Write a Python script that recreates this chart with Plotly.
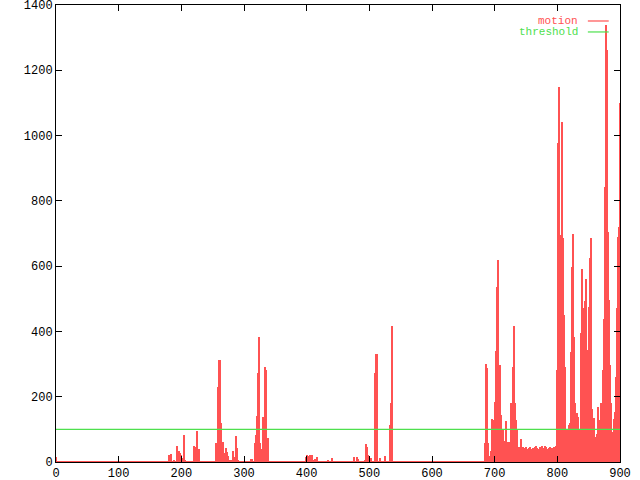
import plotly.graph_objects as go

# frames with motion above zero (everything else is 0)
frames = [
    0, 89, 91, 123, 138, 156, 169, 171, 181, 183, 189, 193, 196, 198, 200, 203, 204, 206,
    221, 223, 225, 226, 228,
    256, 258, 259, 261, 262, 264, 266, 267,
    270, 271, 273, 275, 277, 279, 282, 283, 285, 287, 288, 289, 291,
    311, 313, 318, 319, 321, 322, 324, 325, 327, 328, 330, 331, 333, 335, 336, 338,
    365, 399, 400, 402, 404, 406, 408, 411, 413, 416, 435, 440,
    475, 480, 482, 494, 495, 496, 498, 502, 503, 510, 511, 513, 518, 525, 533, 534, 536,
    684, 686, 688, 689, 691, 694, 696, 697, 699, 700, 702, 704, 705, 707, 708, 710, 711,
    713, 715, 716, 718, 719, 721, 723, 724, 726, 727, 729, 731, 732, 734, 736, 737, 739,
    740, 742, 743, 745, 747, 748, 750, 751, 753, 755, 756, 758, 759, 761, 763, 764, 766,
    767, 769, 771, 772, 774, 775, 777, 779, 780, 782, 783, 785, 787, 788, 790, 791, 793,
    795, 796, 798, 799, 801, 803, 804, 806, 808, 809, 811, 812, 814, 815, 817, 819, 820,
    822, 823, 825, 827, 828, 830, 831, 833, 835, 836, 838, 839, 841, 843, 844, 846, 847,
    849, 851, 852, 854, 855, 857, 859, 860, 862, 863, 865, 867, 868, 870, 871, 873, 875,
    876, 878, 879, 881, 883, 884, 886, 887, 889, 891, 892, 894, 895, 897, 898, 900,
]
motion = [
    16, 3, 3, 2, 2, 2, 3, 3, 22, 25, 4, 49, 34, 28, 22, 12, 84, 6,
    49, 45, 96, 12, 41,
    57, 120, 231, 312, 312, 120, 60, 20,
    27, 42, 32, 18, 6, 6, 34, 27, 14, 5, 80, 42, 5,
    10, 10, 57, 83, 141, 272, 384, 57, 37, 40, 72, 139, 292, 282, 78, 75,
    3, 15, 22, 18, 10, 22, 20, 5, 8, 16, 4, 12,
    16, 14, 8, 4, 55, 47, 20, 11, 11, 272, 331, 331, 12, 18, 113, 182, 418,
    59, 300, 289, 57, 18, 35, 131, 57, 129, 183, 341, 537, 619, 261, 297, 144, 142,
    98, 65, 62, 127, 127, 62, 52, 62, 80, 180, 292, 417, 180, 129, 98, 45, 45,
    37, 72, 37, 47, 44, 40, 45, 40, 38, 42, 45, 40, 35, 42, 38, 45, 48,
    42, 38, 40, 45, 42, 48, 44, 42, 50, 45, 40, 38, 42, 47, 42, 40, 44,
    47, 47, 50, 282, 977, 1150, 695, 603, 1042, 685, 450, 292, 83, 98, 98, 113, 118,
    338, 598, 700, 384, 180, 67, 149, 139, 67, 98, 394, 590, 471, 282, 494, 560, 343,
    210, 476, 624, 685, 161, 67, 134, 62, 78, 86, 170, 129, 100, 180, 180, 282, 437,
    843, 1339, 1262, 706, 496, 297, 180, 93, 62, 131, 154, 261, 471, 690, 720, 1100,
]

frame_range = [0, 900]
baseline = [0, 0]
threshold = [100, 100]

x_ticks = [0, 100, 200, 300, 400, 500, 600, 700, 800, 900]
y_ticks = [0, 200, 400, 600, 800, 1000, 1200, 1400]

ROSSO = "#ff5252"
VERDE = "#4ee04e"
FONT = "Liberation Mono"

fig = go.Figure()

# impulsi di movimento
fig.add_trace(go.Bar(
    x=frames, y=motion, width=2.0,
    marker=dict(color=ROSSO, line=dict(width=0)),
    name="motion", showlegend=False,
))
fig.add_trace(go.Scatter(
    x=frame_range, y=baseline, mode="lines",
    line=dict(color=ROSSO, width=2), cliponaxis=False, showlegend=False,
))
# soglia
fig.add_trace(go.Scatter(
    x=frame_range, y=threshold, mode="lines",
    line=dict(color=VERDE, width=1.2), showlegend=False,
))

asse = dict(
    showline=True, linecolor="black", linewidth=1, mirror="allticks",
    ticks="inside", ticklen=6, tickcolor="black", tickwidth=1,
    showgrid=False, zeroline=False, automargin=False,
    ticklabeloverflow="allow",
    tickfont=dict(family=FONT, size=12, color="black"),
)
fig.update_xaxes(range=frame_range, tickvals=x_ticks, **asse)
fig.update_yaxes(range=[y_ticks[0], y_ticks[-1]], tickvals=y_ticks, **asse)

# legenda stile gnuplot: testo allineato a destra, campione dopo il testo
for testo, colore, yy in [("motion", ROSSO, 0.965), ("threshold", VERDE, 0.941)]:
    fig.add_annotation(
        x=0.929, y=yy, xref="paper", yref="paper", text=testo,
        showarrow=False, xanchor="right", yanchor="middle",
        font=dict(family=FONT, size=11, color=colore),
    )
    fig.add_shape(
        type="line", xref="paper", yref="paper",
        x0=0.943, x1=0.980, y0=yy, y1=yy, line=dict(color=colore, width=1.2),
    )

fig.update_layout(
    width=640, height=480,
    margin=dict(l=56, r=20, t=5, b=18, pad=0),
    paper_bgcolor="white", plot_bgcolor="white",
    bargap=0, showlegend=False,
)

# niente margine del body, così il grafico parte dall'angolo in alto a sinistra
fig.write_html(
    "out.html",
    config={"displayModeBar": False},
    post_script="document.body.style.margin='0';",
)
